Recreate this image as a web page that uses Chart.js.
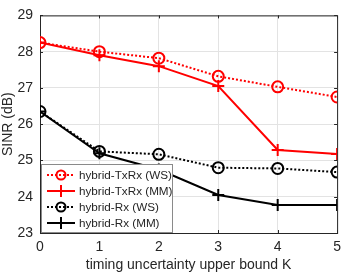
<!DOCTYPE html>
<html>
<head>
<meta charset="utf-8">
<script src="https://cdn.jsdelivr.net/npm/chart.js@4"></script>
<style>
  html, body { margin: 0; padding: 0; background: #fff; }
  #wrap { width: 347px; height: 274px; }
</style>
</head>
<body>
<div id="wrap"><canvas id="sinr-graph" width="347" height="274"></canvas></div>
<script>
const kValues = [0, 1, 2, 3, 4, 5];
const txrxWS = [28.25, 28.0, 27.82, 27.32, 27.03, 26.75];
const txrxMM = [28.25, 27.9, 27.6, 27.05, 25.29, 25.18];
const rxWS = [26.35, 25.25, 25.17, 24.8, 24.78, 24.68];
const rxMM = [26.35, 25.2, 24.75, 24.05, 23.77, 23.77];
const seriesNames = ['hybrid-TxRx (WS)', 'hybrid-TxRx (MM)', 'hybrid-Rx (WS)', 'hybrid-Rx (MM)'];

const fontName = '"Liberation Sans", Arial, sans-serif';

function toPoints(values) {
    return values.map((v, i) => ({ x: kValues[i], y: v }));
}

function makeSet(name, values, color, dotted, marker) {
    return {
        label: name,
        data: toPoints(values),
        borderColor: color,
        backgroundColor: 'rgba(0,0,0,0)',
        borderWidth: 2,
        borderDash: dotted ? [2, 2] : [],
        pointStyle: marker,
        pointRadius: marker === 'circle' ? 5.5 : 6,
        pointBorderWidth: 2,
        pointBorderColor: color,
        pointBackgroundColor: 'rgba(0,0,0,0)',
        tension: 0
    };
}

// legend drawn inside the plot, bottom left, like the original figure
const insideLegend = {
    id: 'insideLegend',
    afterDraw(chart) {
        const ctx = chart.ctx;
        const area = chart.chartArea;
        const x0 = area.left + 1;
        const y0 = area.bottom - 69;
        const w = 131;
        const h = 68;
        ctx.save();
        ctx.fillStyle = '#fff';
        ctx.fillRect(x0, y0, w, h);
        ctx.strokeStyle = '#8a8a8a';
        ctx.lineWidth = 1;
        ctx.strokeRect(x0 + 0.5, y0 + 0.5, w, h);
        chart.data.datasets.forEach((ds, i) => {
            const cy = y0 + 11 + i * 16;
            ctx.strokeStyle = ds.borderColor;
            ctx.lineWidth = 2;
            ctx.setLineDash(ds.borderDash);
            ctx.beginPath();
            ctx.moveTo(x0 + 6, cy);
            ctx.lineTo(x0 + 34, cy);
            ctx.stroke();
            ctx.setLineDash([]);
            ctx.fillStyle = 'rgba(0,0,0,0)';
            Chart.helpers.drawPoint(ctx, {
                pointStyle: ds.pointStyle,
                radius: ds.pointStyle === 'circle' ? 4.5 : 6,
                borderWidth: 2
            }, x0 + 20, cy);
            ctx.fillStyle = '#262626';
            ctx.font = '11.7px ' + fontName;
            ctx.textAlign = 'left';
            ctx.textBaseline = 'middle';
            ctx.fillText(ds.label, x0 + 38, cy + 1);
        });
        ctx.restore();
    }
};

// box around the plot area with inward ticks
const frame = {
    id: 'frame',
    beforeDatasetsDraw(chart) {
        const ctx = chart.ctx;
        const a = chart.chartArea;
        const xs = chart.scales.x;
        const ys = chart.scales.y;
        ctx.save();
        ctx.strokeStyle = '#262626';
        ctx.lineWidth = 1;
        ctx.strokeRect(a.left + 0.5, a.top + 0.5, a.right - a.left, a.bottom - a.top);
        ctx.beginPath();
        xs.ticks.forEach(t => {
            const px = Math.round(xs.getPixelForValue(t.value)) + 0.5;
            ctx.moveTo(px, a.bottom);
            ctx.lineTo(px, a.bottom - 3);
            ctx.moveTo(px, a.top);
            ctx.lineTo(px, a.top + 3);
        });
        ys.ticks.forEach(t => {
            const py = Math.round(ys.getPixelForValue(t.value)) + 0.5;
            ctx.moveTo(a.left, py);
            ctx.lineTo(a.left + 3, py);
            ctx.moveTo(a.right, py);
            ctx.lineTo(a.right - 3, py);
        });
        ctx.stroke();
        ctx.restore();
    }
};

const ctx = document.getElementById('sinr-graph').getContext('2d');
const myChart = new Chart(ctx, {
    type: 'line',
    data: {
        datasets: [
            makeSet(seriesNames[0], txrxWS, '#ff0000', true, 'circle'),
            makeSet(seriesNames[1], txrxMM, '#ff0000', false, 'cross'),
            makeSet(seriesNames[2], rxWS, '#000000', true, 'circle'),
            makeSet(seriesNames[3], rxMM, '#000000', false, 'cross')
        ]
    },
    options: {
        responsive: false,
        animation: false,
        layout: { padding: { top: 7, right: 7, left: 0, bottom: 0 } },
        scales: {
            x: {
                type: 'linear',
                min: 0,
                max: 5,
                ticks: { stepSize: 1, padding: 6, color: '#262626', font: { family: fontName, size: 14 } },
                grid: { color: '#e3e3e3', drawTicks: false },
                border: { display: false },
                title: { display: true, text: 'timing uncertainty upper bound K', color: '#262626', font: { family: fontName, size: 14 }, padding: { top: 0, bottom: 0 } },
                afterFit(scale) { scale.height = 41; }
            },
            y: {
                min: 23,
                max: 29,
                ticks: { stepSize: 1, padding: 7, color: '#262626', font: { family: fontName, size: 14 } },
                grid: { color: '#e3e3e3', drawTicks: false },
                border: { display: false },
                title: { display: true, text: 'SINR (dB)', color: '#262626', font: { family: fontName, size: 14 }, padding: { top: 0, bottom: 0 } },
                afterFit(scale) { scale.width = 40; }
            }
        },
        plugins: {
            legend: { display: false },
            tooltip: { enabled: false }
        }
    },
    plugins: [frame, insideLegend]
});
</script>
</body>
</html>
